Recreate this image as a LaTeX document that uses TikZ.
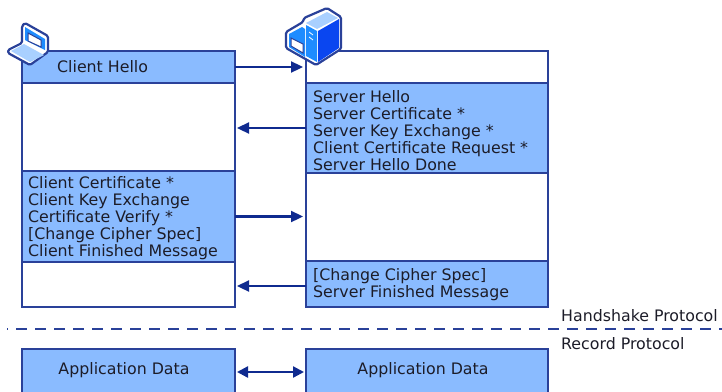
\documentclass[tikz,border=0pt]{standalone}
\usepackage{fontspec}
\setmainfont{DejaVu Sans}
\usetikzlibrary{arrows.meta}

\definecolor{boxblue}{HTML}{8ABBFF}
\definecolor{boxline}{HTML}{2A4199}
\definecolor{arrowblue}{HTML}{0F2A8F}
\definecolor{labelink}{HTML}{1C1C28}
\definecolor{iconmid}{HTML}{1E8CFF}
\definecolor{icondeep}{HTML}{0A46F0}
\definecolor{iconpale}{HTML}{A9D0FF}

\tikzset{
  msgbox/.style={draw=boxline,line width=1.3pt,inner sep=0pt,outer sep=0pt,anchor=north west},
  msgfill/.style={msgbox,fill=boxblue},
  msgtext/.style={text=labelink,inner sep=0pt,font=\fontsize{15.8}{17}\selectfont},
  msgarrow/.style={draw=arrowblue,line width=2.3pt,-{Triangle[length=12pt,width=11pt]}},
  bothways/.style={draw=arrowblue,line width=2.3pt,{Triangle[length=11pt,width=11pt]}-{Triangle[length=11pt,width=11pt]}},
  iconline/.style={draw=boxline,line width=2.2pt,line join=round},
}

\begin{document}
\begin{tikzpicture}[x=1pt,y=-1pt]

\useasboundingbox (0,0) rectangle (722,391);
\clip (0,0) rectangle (722,391);

% client column
\node[msgfill,minimum width=213pt,minimum height=32pt] (chello) at (22,51) {};
\node[msgbox,minimum width=213pt,minimum height=88pt] (cwait) at (22,83) {};
\node[msgfill,minimum width=213pt,minimum height=91pt] (ccert) at (22,171) {};
\node[msgbox,minimum width=213pt,minimum height=45pt] (cend) at (22,262) {};
\node[msgfill,minimum width=213pt,minimum height=46pt] (capp) at (22,349) {};

% server column
\node[msgbox,minimum width=242pt,minimum height=32pt] (swait) at (306,51) {};
\node[msgfill,minimum width=242pt,minimum height=90pt] (shello) at (306,83) {};
\node[msgbox,minimum width=242pt,minimum height=88pt] (sgap) at (306,173) {};
\node[msgfill,minimum width=242pt,minimum height=46pt] (send) at (306,261) {};
\node[msgfill,minimum width=242pt,minimum height=46pt] (sapp) at (306,349) {};

% texts
\node[msgtext,anchor=west] (chellotext) at (57,67) {Client Hello};
\node[msgtext,anchor=west,align=left] (ccerttext) at (28,218) {Client Certificate *\\Client Key Exchange\\Certificate Verify *\\{[Change Cipher Spec]}\\Client Finished Message};
\node[msgtext,anchor=west,align=left] (shellotext) at (313,131) {Server Hello\\Server Certificate *\\Server Key Exchange *\\Client Certificate Request *\\Server Hello Done};
\node[msgtext,anchor=west,align=left] (sendtext) at (313,285) {{[Change Cipher Spec]}\\Server Finished Message};
\node[msgtext] (capptext) at (124,370) {Application Data};
\node[msgtext] (sapptext) at (423,370) {Application Data};
\node[msgtext,anchor=west] (hslabel) at (561,316) {Handshake Protocol};
\node[msgtext,anchor=west] (rclabel) at (561,344) {Record Protocol};

% connectors
\draw[msgarrow] (chello.east) -- ([xshift=-3pt]chello.east -| swait.west);
\draw[msgarrow] (shello.west) -- ([xshift=2pt]shello.west -| cwait.east);
\draw[msgarrow] (ccert.east) -- ([xshift=-3pt]ccert.east -| sgap.west);
\draw[msgarrow] ([yshift=-2pt]send.west) -- ([xshift=2pt,yshift=-2pt]send.west -| cend.east);
\draw[bothways] ([xshift=2pt]capp.east) -- ([xshift=-2pt]sapp.west);

% divider
\coordinate (dashleft) at (7,329);
\coordinate (dashright) at (722,329);
\draw[boxline,line width=1.5pt,dash pattern=on 11pt off 8pt,dash phase=10pt] (dashleft) -- (dashright);

% laptop
\filldraw[iconline,fill=white,rounded corners=1.5pt] (22,26) -- (25,23) -- (48,36) -- (48,52) -- (30,65) -- (8,53) -- (8,50) -- (22,43) -- cycle;
\fill[iconmid] (25,27) -- (45,39) -- (45,50) -- (25,40) -- cycle;
\filldraw[draw=boxline,line width=1pt,fill=white] (28,33) -- (41,40) -- (41,47) -- (28,41) -- cycle;
\fill[iconpale] (11,51) -- (24,44) -- (44,55) -- (30,62) -- cycle;

% server
\filldraw[iconline,fill=white,rounded corners=1.5pt] (286,32) -- (303,22) -- (304,18) -- (327,8) -- (341,17) -- (341,49) -- (316,65) -- (286,48) -- cycle;
\fill[iconmid] (289,34) -- (302,27) -- (305,29) -- (305,57) -- (289,47) -- cycle;
\filldraw[draw=boxline,line width=1pt,fill=white] (291,38) -- (303,44) -- (303,53) -- (291,46) -- cycle;
\fill[iconmid] (306,25) -- (317,31) -- (317,62) -- (306,56) -- cycle;
\fill[icondeep] (318,31) -- (339,19) -- (339,48) -- (318,62) -- cycle;
\fill[iconpale] (306,23) -- (327,12) -- (338,18) -- (317,29) -- cycle;
\draw[white,line width=0.8pt] (309,32) -- (313,35) (309,37) -- (313,40);

\end{tikzpicture}
\end{document}
